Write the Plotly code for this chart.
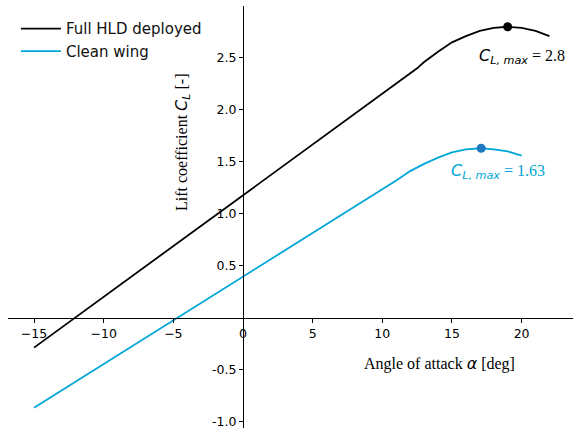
import plotly.graph_objects as go

# Data
alpha_hld = [-15, 12.5, 13, 14, 15, 16, 17, 18, 19, 20, 21, 22]
cl_hld = [-0.29, 2.40, 2.46, 2.56, 2.65, 2.71, 2.76, 2.79, 2.80, 2.79, 2.76, 2.71]
alpha_clean = [-15, 10, 11, 12, 13, 14, 15, 16, 17.1, 18, 19, 20]
cl_clean = [-0.87, 1.23, 1.32, 1.41, 1.48, 1.54, 1.59, 1.62, 1.63, 1.62, 1.60, 1.56]
clmax_hld = (19.0, 2.80)
clmax_clean = (17.1, 1.63)

x_ticks = [-15, -10, -5, 0, 5, 10, 15, 20]
x_ticktext = ["\u221215", "\u221210", "\u22125", "0", "5", "10", "15", "20"]
y_ticks = [-1.0, -0.5, 0.5, 1.0, 1.5, 2.0, 2.5]
y_ticktext = ["-1.0", "-0.5", "0.5", "1.0", "1.5", "2.0", "2.5"]

xr = [-16.87, 23.69]
yr = [-1.064, 3.0]

BLACK = "#000000"
CYAN = "#00A6D6"
DOT_BLUE = "#1f77c0"
SERIF = "Liberation Serif"
SANS = "DejaVu Sans"

fig = go.Figure()
fig.add_trace(go.Scatter(x=alpha_hld, y=cl_hld, mode="lines", name="Full HLD deployed",
                         line=dict(color=BLACK, width=1.8)))
fig.add_trace(go.Scatter(x=alpha_clean, y=cl_clean, mode="lines", name="Clean wing",
                         line=dict(color=CYAN, width=1.8)))
fig.add_trace(go.Scatter(x=[clmax_hld[0]], y=[clmax_hld[1]], mode="markers", showlegend=False,
                         marker=dict(color=BLACK, size=9)))
fig.add_trace(go.Scatter(x=[clmax_clean[0]], y=[clmax_clean[1]], mode="markers", showlegend=False,
                         marker=dict(color=DOT_BLUE, size=9)))

xpos = (0 - yr[0]) / (yr[1] - yr[0])
ypos = (0 - xr[0]) / (xr[1] - xr[0])

fig.update_layout(
    width=573, height=436,
    margin=dict(l=8, r=0, t=6, b=8),
    plot_bgcolor="white", paper_bgcolor="white",
    showlegend=True,
    legend=dict(x=0.014, y=0.985, xanchor="left", yanchor="top",
                font=dict(family=SANS, size=15, color="#111"),
                itemwidth=40,
                bgcolor="rgba(0,0,0,0)", tracegroupgap=2),
    xaxis=dict(range=xr, anchor="free", position=xpos, showgrid=False, zeroline=False,
               showline=True, linecolor="black", linewidth=1,
               ticks="outside", ticklen=4, tickwidth=1, tickcolor="black",
               tickvals=x_ticks, ticktext=x_ticktext,
               tickfont=dict(family=SANS, size=12.5, color="black")),
    yaxis=dict(range=yr, anchor="free", position=ypos, showgrid=False, zeroline=False,
               showline=True, linecolor="black", linewidth=1,
               ticks="outside", ticklen=4, tickwidth=1, tickcolor="black",
               tickvals=y_ticks, ticktext=y_ticktext,
               tickfont=dict(family=SANS, size=12.5, color="black")),
)

sans_i = lambda s: f"<span style='font-family:{SANS}'><i>{s}</i></span>"

fig.add_annotation(x=-4.38, y=1.69, xref="x", yref="y", showarrow=False, textangle=-90,
                   text="Lift coefficient " + sans_i("C") + "<sub>" + sans_i("L") + "</sub> [-]",
                   font=dict(family=SERIF, size=16, color="black"))
fig.add_annotation(x=14.14, y=-0.44, xref="x", yref="y", showarrow=False,
                   text="Angle of attack " + sans_i("\u03b1") + " [deg]",
                   font=dict(family=SERIF, size=16, color="black"))
fig.add_annotation(x=20.03, y=2.51, xref="x", yref="y", showarrow=False,
                   text=sans_i("C") + "<sub>" + sans_i("L, max") + "</sub> = " + f"{clmax_hld[1]:g}",
                   font=dict(family=SERIF, size=16, color="black"))
fig.add_annotation(x=18.3, y=1.41, xref="x", yref="y", showarrow=False,
                   text=sans_i("C") + "<sub>" + sans_i("L, max") + "</sub> = " + f"{clmax_clean[1]:g}",
                   font=dict(family=SERIF, size=16, color=CYAN))

fig.write_html("out.html")
